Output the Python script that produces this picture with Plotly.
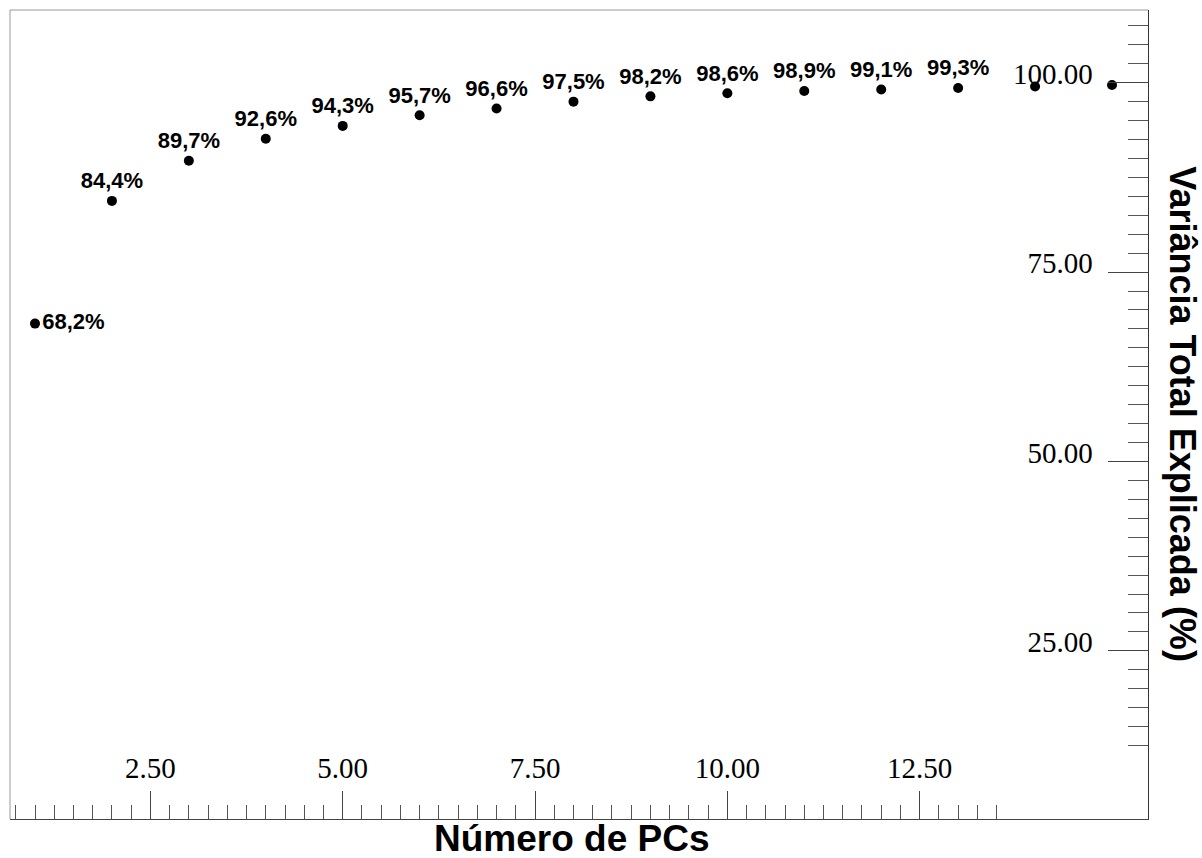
import plotly.graph_objects as go

# Cumulative explained variance per number of principal components
n_pcs = [1, 2, 3, 4, 5, 6, 7, 8, 9, 10, 11, 12, 13, 14, 15]
cum_variance = [68.2, 84.4, 89.7, 92.6, 94.3, 95.7, 96.6, 97.5, 98.2, 98.6, 98.9, 99.1, 99.3, 99.5, 99.7]
point_labels = ["68,2%", "84,4%", "89,7%", "92,6%", "94,3%", "95,7%", "96,6%",
                "97,5%", "98,2%", "98,6%", "98,9%", "99,1%", "99,3%", "", ""]
label_positions = ["middle right"] + ["top center"] * 14

x_major = [2.5, 5.0, 7.5, 10.0, 12.5]
x_major_text = ["2.50", "5.00", "7.50", "10.00", "12.50"]
y_major = [25, 50, 75, 100]
y_major_text = ["25.00", "50.00", "75.00", "100.00"]

x_minor = [0.75 + 0.25 * i for i in range(57) if (0.75 + 0.25 * i) % 2.5 != 0]
y_minor = [5 + 2.5 * i for i in range(42) if (5 + 2.5 * i) % 25 != 0]

SANS = "Liberation Sans, Arial, sans-serif"
SERIF = "Liberation Serif, Times New Roman, serif"

fig = go.Figure(go.Scatter(
    x=n_pcs, y=cum_variance,
    mode="markers+text",
    marker=dict(symbol="circle", size=10, color="black"),
    text=point_labels,
    textposition=label_positions,
    textfont=dict(family=SANS, size=22, color="black", weight="bold"),
    cliponaxis=False,
    showlegend=False,
))

fig.update_layout(
    width=1202, height=858,
    margin=dict(l=10, r=54, t=10, b=39),
    paper_bgcolor="white", plot_bgcolor="white",
    xaxis=dict(
        range=[0.675, 15.468],
        tickmode="array", tickvals=x_major, ticktext=x_major_text,
        ticks="inside", ticklen=28, tickwidth=1, tickcolor="#444",
        ticklabelposition="inside", ticklabelstandoff=10,
        tickfont=dict(family=SERIF, size=29, color="black"),
        minor=dict(tickmode="array", tickvals=x_minor, ticks="inside",
                   ticklen=14, tickwidth=1, tickcolor="#555"),
        showgrid=False, zeroline=False,
        showline=True, linecolor="#444", linewidth=1,
    ),
    yaxis=dict(
        side="right",
        range=[2.8, 109.6],
        tickmode="array", tickvals=y_major, ticktext=y_major_text,
        ticks="inside", ticklen=40, tickwidth=1, tickcolor="#444",
        ticklabelposition="inside", ticklabelstandoff=18, ticklabelshift=-9,
        tickfont=dict(family=SERIF, size=29, color="black"),
        minor=dict(tickmode="array", tickvals=y_minor, ticks="inside",
                   ticklen=20, tickwidth=1, tickcolor="#555"),
        showgrid=False, zeroline=False,
        showline=True, linecolor="#333", linewidth=1,
    ),
    shapes=[
        dict(type="line", xref="paper", yref="paper", x0=0, x1=0, y0=0, y1=1,
             line=dict(color="#999", width=1)),
        dict(type="line", xref="paper", yref="paper", x0=0, x1=1, y0=1, y1=1,
             line=dict(color="#999", width=1)),
    ],
    annotations=[
        dict(text="Número de PCs", xref="paper", yref="paper", x=0.494, y=0,
             xanchor="center", yanchor="middle", yshift=-19, showarrow=False,
             font=dict(family=SANS, size=37, color="black", weight="bold")),
        dict(text="Variância Total Explicada (%)", xref="paper", yref="paper",
             x=1.030, y=0.5, xanchor="center", yanchor="middle", textangle=90,
             showarrow=False,
             font=dict(family=SANS, size=36, color="black", weight="bold")),
    ],
)

fig.write_html("out.html")
